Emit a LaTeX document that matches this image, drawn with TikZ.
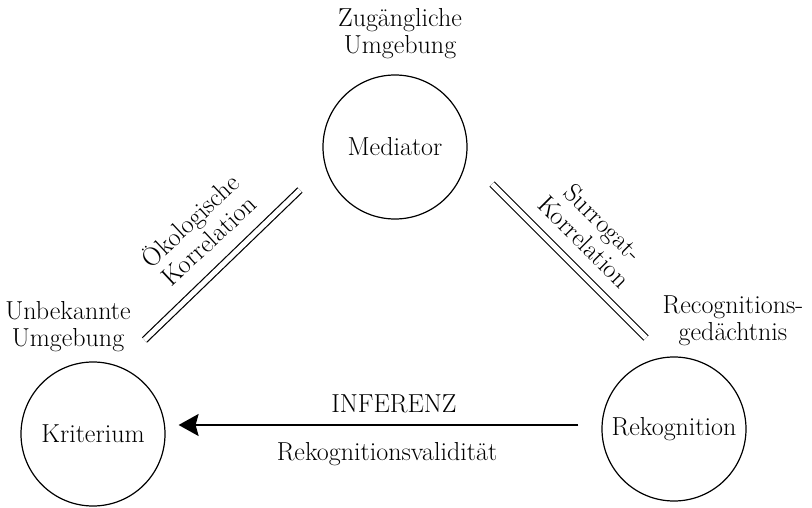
\documentclass[tikz,border=0pt]{standalone}
\usepackage{fontspec}
\usetikzlibrary{arrows.meta}
\begin{document}
\begin{tikzpicture}[x=1pt,y=-1pt,
  every node/.style={font=\fontsize{26}{27}\selectfont, inner sep=0pt},
  bubble/.style={draw, circle, line width=1.2pt, minimum size=144pt},
  lbl/.style={align=center, anchor=base},
  corr/.style={line width=1.2pt, double, double distance=5pt},
  infer/.style={line width=1.8pt, -{Stealth[length=20pt,width=22pt,inset=3pt]}}]
\path[fill=white] (0,0) rectangle (812,508);
% circles
\node[bubble] (med) at (395,147) {Mediator};
\node[bubble] (krit) at (93,434) {Kriterium};
\node[bubble] (rek) at (674,429) {Rekognition};
% labels (anchor = baseline of the last line)
\node[lbl] (zu) at (400,54) {Zugängliche\\Umgebung};
\node[lbl] (unb) at (68,346) {Unbekannte\\Umgebung};
\node[lbl] (recg) at (733,340) {Recognitions-\\gedächtnis};
\node[anchor=base] (inf) at (394,412) {INFERENZ};
\node[anchor=base] (val) at (387,460) {Rekognitionsvalidität};
\node[lbl, rotate=43] (oek) at (215,247) {Ökologische\\Korrelation};
\node[lbl, rotate=-45] (sur) at (578,248) {Surrogat-\\Korrelation};
% correlation double lines
\coordinate (l1) at (144.5,340);
\coordinate (l2) at (300,190);
\coordinate (r1) at (492,184);
\coordinate (r2) at (646,338);
\draw[corr] (l1) -- (l2);
\draw[corr] (r1) -- (r2);
% inference arrow
\coordinate (ay) at (0,425);
\draw[infer, shorten <=23pt, shorten >=13pt] (rek.west |- ay) -- (krit.east |- ay);
\end{tikzpicture}
\end{document}
